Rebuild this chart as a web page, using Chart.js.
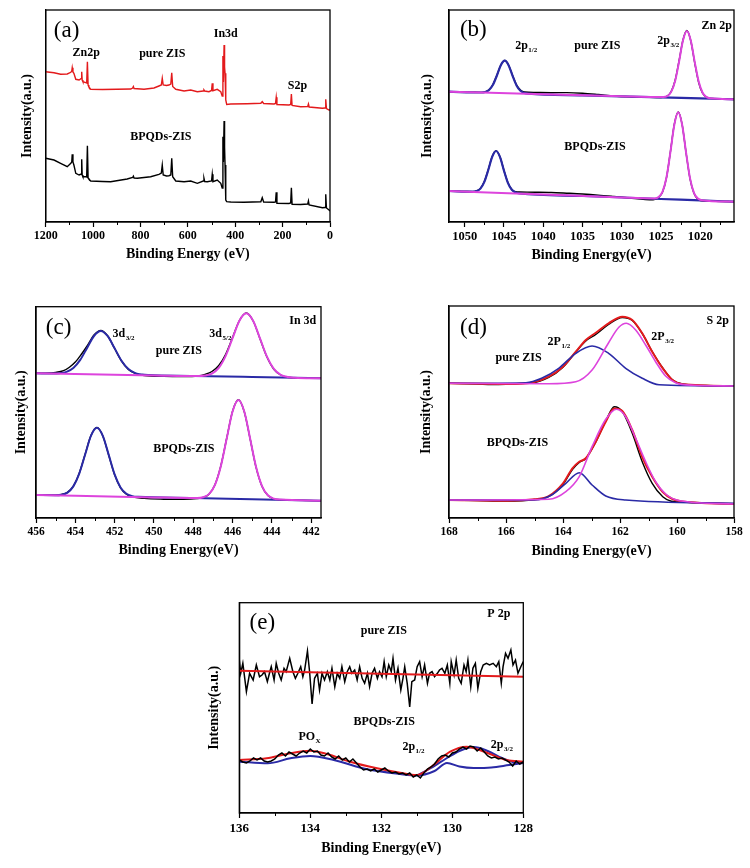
<!DOCTYPE html>
<html><head><meta charset="utf-8">
<script src="https://cdn.jsdelivr.net/npm/chart.js@4.4.1/dist/chart.umd.min.js"></script>
<style>
html,body{margin:0;padding:0;background:#fff;}
body{width:750px;height:868px;position:relative;overflow:hidden;}
canvas{position:absolute;}
</style></head><body>
<canvas id="ca" width="375" height="270" style="left:0;top:0"></canvas>
<canvas id="cb" width="375" height="270" style="left:375px;top:0"></canvas>
<canvas id="cc" width="375" height="300" style="left:0;top:270px"></canvas>
<canvas id="cd" width="375" height="300" style="left:375px;top:270px"></canvas>
<canvas id="ce" width="340" height="298" style="left:200px;top:570px"></canvas>
<script>
// ---------- tick labels ----------
const aTicks = [1200, 1000, 800, 600, 400, 200, 0];
const aMinor = [1100, 900, 700, 500, 300, 100];
const bTicks = [1050, 1045, 1040, 1035, 1030, 1025, 1020];
const bMinor = [1047.5, 1042.5, 1037.5, 1032.5, 1027.5, 1022.5, 1017.5];
const cTicks = [456, 454, 452, 450, 448, 446, 444, 442];
const cMinor = [455, 453, 451, 449, 447, 445, 443];
const dTicks = [168, 166, 164, 162, 160, 158];
const dMinor = [167, 165, 163, 161, 159];
const eTicks = [136, 134, 132, 130, 128];
const eMinor = [135, 133, 131, 129];

// ---------- (a) survey ----------
const aPureE = [1200,1165,1137,1109,1094,1090,1088,1085,1081,1073,1059,1050,1048,1046,1043,1031,1027,1024,1021,1018,1010,960,900,841,833,830,827,785,743,722,712,708,704,690,680,672,668,664,651,616,588,560,535,532,529,511,500,497,494,476,461,455,452,450,447,445,443,440,436,419,350,292,286,280,236,230,227,224,173,166,163,160,124,94,91,88,32,21,18,15,4,0];
const aPureI = [150.3,149.3,147.7,148,149.7,151,154.3,150,148.7,142.7,142,143.5,150.3,142,140.3,139.3,139,160.3,137,135.3,132.7,132.5,132.8,133,134,135.5,133.5,132.8,134,136,137,143.7,137,136.5,137,138,149.3,135.5,132.7,131,132,130.3,131,132,131,130.3,131.5,138.7,131.3,132.7,130.3,126,166,140,177,155,148.7,122,117.5,118,118.3,118.7,120.3,118.5,118,118.5,124.7,117.5,117,117.5,128,116.5,115.3,115.5,118,115,113.7,114,122.7,113.5,112,112];
const aBpE = [1200,1165,1137,1109,1094,1090,1088,1085,1081,1073,1059,1050,1048,1046,1043,1031,1027,1024,1021,1018,1010,960,926,856,833,830,827,813,785,757,722,712,708,704,690,680,672,668,664,651,616,588,560,535,532,529,518,500,497,494,476,461,455,452,450,447,445,443,440,436,419,363,292,286,280,236,230,227,224,173,166,163,160,124,94,91,88,32,21,18,15,4,0];
const aBpI = [63.7,62,58.7,55.3,58.7,60,67.7,60,57,48.7,47,48,62.7,47,45.3,45.3,45,76.3,44,43,41,40.5,40.3,43,44.5,45.8,44,43.7,44.5,45.3,47.7,49,57,47,46,46.3,47,63.7,45.3,41,40.3,41,38.7,41,43.7,40.5,40.3,41,47.7,40.3,42,38.7,34,85.3,60,101,75,57,22,20.3,20,19.7,20.3,24.3,20,19.7,20,29.7,18.7,18.5,19,34.3,17.7,17.5,18,21,17,14.3,14.5,27.7,14,12,11];

// ---------- (b) Zn 2p ----------
const bPureDataE = [1052,1049,1048,1047.4,1046.9,1046.4,1045.9,1045.4,1044.9,1044.4,1043.9,1043.4,1042.9,1042.4,1041,1039,1037,1035,1033,1031,1029,1027,1025,1024.2,1023.7,1023.2,1022.7,1022.2,1021.7,1021.2,1020.7,1020.2,1019.7,1019.2,1018.7,1017,1015.7];
const bPureDataI = [130.3,129.8,129.6,130.2,132.3,137.5,146.8,157.0,161.5,156.8,146.5,137.2,132.0,130.0,129.5,129.3,129.4,128.8,127.5,126.0,125.2,124.8,124.5,126.0,130.5,141.5,161,182,191.5,181,159,139.5,128.8,124.8,123.6,123.1,122.7];
const bPureP1E = [1052,1047.9,1047.4,1046.9,1046.4,1045.9,1045.4,1044.9,1044.4,1043.9,1043.4,1042.9,1042.4,1041.9,1035,1025,1020,1015.7];
const bPureP1I = [130.3,129.5,130.0,132.0,137.2,146.5,156.8,161.3,156.6,146.1,136.6,131.2,129.0,128.3,126.7,124.6,123.6,122.7];
const bPureP2E = [1052,1040,1030,1026,1024.7,1024.2,1023.7,1023.2,1022.7,1022.2,1021.7,1021.2,1020.7,1020.2,1019.7,1019.2,1018.7,1015.7];
const bPureP2I = [130.3,127.8,125.7,124.9,124.9,125.9,130.1,141.0,160.3,181.5,191.0,181.3,159.9,140.4,129.3,124.9,123.7,122.7];
const bBpDataE = [1052,1050,1049,1048.5,1048,1047.5,1047,1046.5,1046,1045.5,1045,1044.5,1044,1043.5,1043,1041,1039,1037,1035,1033,1031,1029,1027,1026,1025.3,1024.8,1024.3,1023.8,1023.3,1022.8,1022.3,1021.8,1021.3,1020.8,1020.3,1019.8,1018,1015.7];
const bBpDataI = [31.0,30.5,30.3,31.0,33.6,40.5,52.3,65.5,71.3,65.0,51.6,39.5,32.5,30.2,30.0,29.8,29.5,28.8,28.0,26.9,25.5,24.0,22.5,22.2,24.5,30.0,44.3,70.2,97.8,110.0,97.2,69.0,43.2,28.8,22.8,21.2,20.8,20.3];
const bBpP1E = [1052,1049.0,1048.5,1048.0,1047.5,1047.0,1046.5,1046.0,1045.5,1045.0,1044.5,1044.0,1043.5,1043.0,1035,1025,1020,1015.7];
const bBpP1I = [31.0,30.3,30.9,33.4,40.1,52.0,65.2,71.0,64.9,51.4,39.2,32.2,29.4,28.5,26.0,23.0,21.6,20.3];
const bBpP2E = [1052,1040,1030,1025.8,1025.3,1024.8,1024.3,1023.8,1023.3,1022.8,1022.3,1021.8,1021.3,1020.8,1020.3,1019.8,1015.7];
const bBpP2I = [31.0,27.5,24.5,23.6,24.9,30.4,44.5,69.8,97.3,109.7,97.0,69.2,43.6,29.2,23.4,21.8,20.3];

// ---------- (c) In 3d ----------
const cPureDataE = [456,455.5,455,454.6,454.3,454.0,453.7,453.4,453.05,452.7,452.35,452.0,451.65,451.3,450.95,450.5,449.5,448.5,447.75,447.4,447.05,446.7,446.35,446.0,445.65,445.3,444.95,444.6,444.25,443.9,443.55,443.2,442.5,441.5];
const cPureDataI = [144.8,144.9,145.6,147.3,150.8,156.0,163.5,172.0,183.0,187.5,182.0,169.5,157.0,148.6,144.6,142.5,141.6,141.4,142.0,143.6,146.5,152.5,163.8,180.5,197.5,205.0,197.0,179.0,161.0,148.8,143.0,140.8,140.0,139.7];
const cPureP1E = [456,455.15,454.8,454.45,454.1,453.75,453.4,453.05,452.7,452.35,452.0,451.65,451.3,450.95,450.6,450.25,448,445,441.5];
const cPureP1I = [144.7,144.5,144.8,146.1,150.0,158.1,170.1,182.0,187.0,181.8,169.7,157.3,149.0,144.9,143.4,142.9,142.1,141.0,139.7];
const cPureP2E = [456,450,447.75,447.4,447.05,446.7,446.35,446.0,445.65,445.3,444.95,444.6,444.25,443.9,443.55,443.2,442.85,441.5];
const cPureP2I = [144.7,142.6,141.9,142.4,144.4,150.1,162.1,179.8,197.3,204.7,197.1,179.4,161.3,149.1,143.2,141.0,140.3,139.7];
const cBpDataE = [456,455.0,454.7,454.4,454.1,453.8,453.5,453.2,452.9,452.6,452.3,452.0,451.7,451.4,451.1,450.5,449.5,448.5,447.8,447.5,447.2,446.9,446.6,446.3,446.0,445.7,445.4,445.1,444.8,444.5,444.2,443.9,443.6,442.5,441.5];
const cBpDataI = [23.0,22.9,23.5,25.6,31.9,44.8,63.8,82.6,90.6,82.0,62.8,43.2,30.2,23.8,21.2,19.6,18.8,18.6,19.4,20.6,23.8,33.0,51.8,79.5,106.8,118.3,106.0,78.5,50.4,31.6,22.5,19.2,18.2,17.6,17.3];
const cBpP1E = [456,455.0,454.7,454.4,454.1,453.8,453.5,453.2,452.9,452.6,452.3,452.0,451.7,451.4,451.1,450.8,448,445,441.5];
const cBpP1I = [23.0,22.8,23.3,25.4,31.6,44.4,63.5,82.4,90.3,82.2,63.1,43.6,30.6,24.2,21.9,21.2,20.1,18.7,17.3];
const cBpP2E = [456,450,447.8,447.5,447.2,446.9,446.6,446.3,446.0,445.7,445.4,445.1,444.8,444.5,444.2,443.9,443.6,441.5];
const cBpP2I = [23.0,20.6,20.0,20.8,23.9,32.9,51.5,79.2,106.5,118.0,106.3,78.8,50.7,31.9,22.7,19.4,18.4,17.3];

// ---------- (d) S 2p ----------
const dPureDataE = [168,167,166.5,166,165.5,165.1,164.5,164.0,163.55,163.2,162.85,162.4,161.92,161.57,161.22,160.87,160.5,160.16,159.8,159,158];
const dPureDataI = [134.7,134.0,133.5,133.8,134.6,135.0,140.5,150.8,166.0,177.0,183.5,193.5,200.5,197.5,184.5,166.5,150,138.2,134,132.5,132];
const dPureEnvE = [168,165.95,165.1,164.5,164.0,163.55,163.2,162.85,162.4,161.92,161.57,161.22,160.87,160.5,160.16,159.8,158];
const dPureEnvI = [134.7,134,135.3,141.3,151.3,166.3,178,185.3,194.7,201.3,198,184.7,166.3,149.7,138,133.7,132];
const dPureP1E = [168,165.3,164.75,164.15,163.55,162.98,162.4,161.8,161.22,160.63,158];
const dPureP1I = [134.7,135.3,139.7,149.7,164.7,172,164.7,149.7,139.7,133.2,132];
const dPureP2E = [168,164.5,163.55,162.98,162.4,162.04,161.78,161.45,161.1,160.75,160.4,160.05,159.4,158];
const dPureP2I = [134.7,134.3,136.3,148,175.3,190.7,194.7,188,173,156.3,142,135.3,132.7,132];
const dBpDataE = [168,167,166,165.0,164.5,164.0,163.67,163.43,163.2,162.85,162.5,162.2,161.92,161.57,161.22,160.87,160.5,160.2,159.8,159,158];
const dBpDataI = [18,17.5,17.0,18.5,21.5,33.5,48.5,55.5,59.5,76,97,111.3,106.3,84.7,56.3,34.7,21.3,16.8,16.0,15.0,14];
const dBpEnvE = [168,165.95,165.0,164.5,164.0,163.67,163.43,163.2,162.85,162.5,162.2,161.92,161.57,161.22,160.87,160.5,160.16,159.8,158];
const dBpEnvI = [18,17.3,18.7,22,34.7,49.7,56.3,59.7,76.3,96.3,109.5,107,88,61,41.3,26,19,16.5,14];
const dBpP1E = [168,165.0,164.4,163.9,163.43,162.98,162.5,161.8,158];
const dBpP1I = [18,18,23,34.7,45.3,33,22,18,14.7];
const dBpP2E = [168,164.5,163.9,163.43,162.98,162.5,162.12,161.8,161.45,161.1,160.75,160.4,159.9,158];
const dBpP2I = [18,18.7,26.3,41.3,71.3,98.7,108.7,101.3,79.7,56.3,36.3,24,17.3,14];

// ---------- (e) P 2p ----------
const ePureE = [136.00,135.96,135.90,135.80,135.71,135.61,135.52,135.43,135.36,135.29,135.21,135.14,135.10,135.02,134.96,134.89,134.82,134.74,134.68,134.58,134.49,134.42,134.35,134.27,134.21,134.16,134.08,134.02,133.95,133.88,133.80,133.74,133.67,133.60,133.52,133.45,133.39,133.31,133.24,133.17,133.11,133.03,132.96,132.89,132.83,132.75,132.68,132.61,132.54,132.47,132.39,132.33,132.26,132.19,132.11,132.05,131.98,131.92,131.86,131.79,131.72,131.67,131.60,131.53,131.45,131.39,131.34,131.27,131.20,131.14,131.06,130.99,130.92,130.85,130.78,130.70,130.64,130.57,130.50,130.42,130.36,130.29,130.21,130.14,130.07,130.03,129.95,129.89,129.82,129.75,129.67,129.61,129.56,129.48,129.42,129.35,129.28,129.20,129.13,129.04,128.95,128.85,128.76,128.69,128.62,128.57,128.50,128.43,128.35,128.29,128.22,128.15,128.07,128.00];
const ePureI = [153.0,139.7,149.7,121.3,139.7,133,148,136.3,138,141.3,131.3,141.3,146.3,133,149.7,139.7,133,144.7,141.3,154.7,141.3,134.7,139.7,146.3,136.3,143,162,141.3,109,134.7,139.7,123,139.7,133,141.3,133,144.7,126.3,139.7,134.7,146.3,131.3,141.3,146.3,139.7,143,133,146.3,134.7,129.7,139.7,126.3,139.7,144.7,134.7,141.3,136.3,151.3,136.3,148,141.3,154.7,133,144.7,123,134.7,146.3,129.7,106,131.3,133,146.3,151.3,136.3,148,129.7,139.7,141.3,136.3,139.7,143,144.7,139.7,148,129.7,151.3,138,153,134.7,129.7,148,141.3,153,126.3,144.7,149.7,124.7,141.3,148,149.7,148,149.7,146.3,151.3,129.7,146.3,159.7,154.7,163,148,153,139.7,146.3,151.3];
const ePureFitE = [136, 128];
const ePureFitI = [142.3, 136.3];
const eBpDataE = [136.0,135.9,135.8,135.7,135.6,135.5,135.4,135.3,135.2,135.1,135.0,134.9,134.8,134.7,134.6,134.5,134.4,134.3,134.2,134.1,134.0,133.9,133.8,133.7,133.6,133.5,133.4,133.3,133.2,133.1,133.0,132.9,132.8,132.7,132.6,132.5,132.4,132.3,132.2,132.1,132.0,131.9,131.8,131.7,131.6,131.5,131.4,131.3,131.2,131.1,131.0,130.9,130.8,130.7,130.6,130.5,130.4,130.3,130.2,130.1,130.0,129.9,129.8,129.7,129.6,129.5,129.4,129.3,129.2,129.1,129.0,128.9,128.8,128.7,128.6,128.5,128.4,128.3,128.2,128.1,128.0];
const eBpDataI = [53,51,50,52,55,53,55,52,51,52,54,58,60,57,61,59,57,60,62,60,64,61,62,58,57,60,56,54,57,53,55,51,54,50,46,43,44,42,44,41,43,45,42,40,41,39,40,38,40,36,38,35,40,44,46,49,54,57,58,56,60,61,64,66,64,67,66,62,65,61,57,55,56,54,55,53,51,47,52,49,51];
const eBpEnvE = [136,135.23,134.66,134.0,133.53,132.88,132.12,131.47,131.0,130.53,130.06,129.6,129.03,128.47,128.0];
const eBpEnvI = [53,54.7,59,62.3,59,51.3,44.7,40.3,38,48,61.3,66.3,60.3,53,51.3];
const eBpPoxE = [136,135.2,134.56,134.0,133.34,132.4,131.47,131.0,130.5,130.15,129.8,129.4,128.9,128.4,128.0];
const eBpPoxI = [51.3,49.7,54.7,57,53,43.7,39,37.5,42,50,46.5,45,45.5,48,50];
const eBpP32E = [131.0,130.6,130.15,129.8,129.4,129.0,128.6,128.3,128.0];
const eBpP32I = [37.5,45,55,62,66,62,55,51,50];

// ---------- helpers ----------
const SERIF = '"Liberation Serif", "Times New Roman", serif';
Chart.defaults.font.family = SERIF;
const BLACK = '#000000', RED = '#e31a1c', BLUE = '#2a2aa6', MAG = '#dd44dd';

function ds(xs, ys, color, width, smooth) {
  return {
    data: xs.map((v, i) => ({x: v, y: ys[i]})),
    borderColor: color, borderWidth: width, pointRadius: 0, fill: false,
    tension: smooth ? 0.4 : 0,
    cubicInterpolationMode: smooth ? 'monotone' : 'default'
  };
}

const framePlugin = {
  id: 'frame',
  afterDraw(chart, args, opts) {
    const {ctx, chartArea: a, scales} = chart;
    const x = scales.x, y = scales.y;
    ctx.save();
    ctx.strokeStyle = '#000'; ctx.lineWidth = 1.3;
    ctx.strokeRect(a.left, a.top, a.right - a.left, a.bottom - a.top);
    ctx.lineWidth = 1;
    (opts.minor || []).forEach(v => {
      const px = Math.round(x.getPixelForValue(v)) + 0.5;
      ctx.beginPath(); ctx.moveTo(px, a.bottom); ctx.lineTo(px, a.bottom + 3); ctx.stroke();
    });
    (opts.labels || []).forEach(it => {
      const px = x.getPixelForValue(it.x), py = y.getPixelForValue(it.y);
      const size = it.size || 12;
      const weight = it.weight || 'bold';
      const main = weight + ' ' + size + 'px ' + SERIF;
      const subSize = Math.round(size * 0.62);
      const subF = weight + ' ' + subSize + 'px ' + SERIF;
      ctx.font = main; const w1 = ctx.measureText(it.t).width;
      let w2 = 0;
      if (it.s) { ctx.font = subF; w2 = ctx.measureText(it.s).width; }
      const x0 = px - (w1 + w2) / 2;
      ctx.textBaseline = 'middle'; ctx.textAlign = 'left'; ctx.fillStyle = '#000';
      ctx.font = main; ctx.fillText(it.t, x0, py);
      if (it.s) { ctx.font = subF; ctx.fillText(it.s, x0 + w1 + 0.5, py + size * 0.35); }
    });
    ctx.restore();
  }
};

function makeChart(id, c) {
  return new Chart(document.getElementById(id), {
    type: 'line',
    data: { datasets: c.datasets },
    options: {
      responsive: false, animation: false, devicePixelRatio: 1,
      layout: { padding: c.padding },
      plugins: { legend: {display: false}, tooltip: {enabled: false},
                 frame: { minor: c.minor, labels: c.labels } },
      scales: {
        x: {
          type: 'linear', reverse: true, min: c.xmin, max: c.xmax,
          afterBuildTicks: s => { s.ticks = c.ticks.map(v => ({value: v})); },
          afterFit: s => { s.height = c.xAxisH; },
          ticks: { font: {family: SERIF, weight: 'bold', size: c.tickSize}, color: '#000',
                   padding: c.tickPad, maxRotation: 0, autoSkip: false, callback: v => String(v) },
          grid: { display: true, drawOnChartArea: false, drawTicks: true, tickLength: 5,
                  tickColor: '#000', tickWidth: 1.2 },
          border: { display: true, color: '#000', width: 1.3 },
          title: { display: true, text: c.xTitle, color: '#000',
                   font: {family: SERIF, weight: 'bold', size: 14},
                   padding: {top: 0, bottom: c.xTitlePad} }
        },
        y: {
          type: 'linear', min: 0, max: c.ymax,
          afterFit: s => { s.width = c.yAxisW; },
          ticks: { display: false }, grid: { display: false },
          border: { display: true, color: '#000', width: 1.3 },
          title: { display: true, text: 'Intensity(a.u.)', color: '#000',
                   font: {family: SERIF, weight: 'bold', size: 14},
                   padding: {top: c.yTitlePad, bottom: 0} }
        }
      }
    },
    plugins: [framePlugin]
  });
}

// (a)
makeChart('ca', {
  datasets: [ ds(aPureE, aPureI, RED, 1.4, false), ds(aBpE, aBpI, BLACK, 1.4, false) ],
  padding: {left: 0, top: 10, right: 45, bottom: 0},
  xmin: 0, xmax: 1200, ymax: 212, ticks: aTicks, minor: aMinor,
  xAxisH: 48, yAxisW: 45.7, tickSize: 12, tickPad: 1.8, xTitlePad: 7.6, yTitlePad: 18.6,
  xTitle: 'Binding Energy (eV)',
  labels: [
    {x: 1112, y: 191, t: '(a)', size: 23, weight: 'normal'},
    {x: 1029, y: 169.5, t: 'Zn2p'},
    {x: 708, y: 167.8, t: 'pure ZIS'},
    {x: 440, y: 188.3, t: 'In3d'},
    {x: 137, y: 136.5, t: 'S2p'},
    {x: 714, y: 84.8, t: 'BPQDs-ZIS'}
  ]
});

// (b)
makeChart('cb', {
  datasets: [
    ds(bPureP2E, bPureP2I, MAG, 2, true), ds(bPureP1E, bPureP1I, BLUE, 2.2, true),
    ds(bBpP2E, bBpP2I, MAG, 2, true), ds(bBpP1E, bBpP1I, BLUE, 2.2, true),
    ds(bPureDataE, bPureDataI, BLACK, 1.4, true), ds(bBpDataE, bBpDataI, BLACK, 1.4, true)
  ],
  padding: {left: 0, top: 10, right: 16, bottom: 0},
  xmin: 1015.7, xmax: 1052, ymax: 212, ticks: bTicks, minor: bMinor,
  xAxisH: 48, yAxisW: 74, tickSize: 12.5, tickPad: 2.2, xTitlePad: 6.6, yTitlePad: 43.6,
  xTitle: 'Binding Energy(eV)',
  labels: [
    {x: 1048.9, y: 192, t: '(b)', size: 23, weight: 'normal'},
    {x: 1042.2, y: 176, t: '2p', s: '1/2'},
    {x: 1033.1, y: 176.2, t: 'pure ZIS'},
    {x: 1024.1, y: 181.2, t: '2p', s: '3/2'},
    {x: 1017.9, y: 196.2, t: 'Zn 2p'},
    {x: 1033.4, y: 74.8, t: 'BPQDs-ZIS'}
  ]
});

// (c)
makeChart('cc', {
  datasets: [
    ds(cPureP2E, cPureP2I, MAG, 2, true), ds(cPureP1E, cPureP1I, BLUE, 2, true),
    ds(cBpP2E, cBpP2I, MAG, 2, true), ds(cBpP1E, cBpP1I, BLUE, 2, true),
    ds(cPureDataE, cPureDataI, BLACK, 1.4, true), ds(cBpDataE, cBpDataI, BLACK, 1.4, true)
  ],
  padding: {left: 0, top: 36.7, right: 54, bottom: 0},
  xmin: 441.5, xmax: 456, ymax: 211.3, ticks: cTicks, minor: cMinor,
  xAxisH: 52, yAxisW: 36, tickSize: 11.5, tickPad: 2.1, xTitlePad: 11.1, yTitlePad: 12.6,
  xTitle: 'Binding Energy(eV)',
  labels: [
    {x: 454.85, y: 190.5, t: '(c)', size: 23, weight: 'normal'},
    {x: 451.56, y: 184, t: '3d', s: '3/2'},
    {x: 446.63, y: 184, t: '3d', s: '5/2'},
    {x: 442.43, y: 197.2, t: 'In 3d'},
    {x: 448.73, y: 166.7, t: 'pure ZIS'},
    {x: 448.48, y: 69.3, t: 'BPQDs-ZIS'}
  ]
});

// (d)
makeChart('cd', {
  datasets: [
    ds(dPureP2E, dPureP2I, MAG, 1.6, true), ds(dPureP1E, dPureP1I, BLUE, 1.6, true),
    ds(dBpP2E, dBpP2I, MAG, 1.6, true), ds(dBpP1E, dBpP1I, BLUE, 1.6, true),
    ds(dPureEnvE, dPureEnvI, RED, 2, true), ds(dBpEnvE, dBpEnvI, RED, 2, true),
    ds(dPureDataE, dPureDataI, BLACK, 1.4, true), ds(dBpDataE, dBpDataI, BLACK, 1.4, true)
  ],
  padding: {left: 0, top: 36, right: 16, bottom: 0},
  xmin: 158, xmax: 168, ymax: 212, ticks: dTicks, minor: dMinor,
  xAxisH: 52, yAxisW: 74, tickSize: 11.5, tickPad: 1.8, xTitlePad: 10.1, yTitlePad: 42.6,
  xTitle: 'Binding Energy(eV)',
  labels: [
    {x: 167.14, y: 190.5, t: '(d)', size: 23, weight: 'normal'},
    {x: 164.15, y: 176.3, t: '2P', s: '1/2'},
    {x: 160.51, y: 181.3, t: '2P', s: '3/2'},
    {x: 158.57, y: 197.5, t: 'S 2p'},
    {x: 165.56, y: 160.5, t: 'pure ZIS'},
    {x: 165.6, y: 75.2, t: 'BPQDs-ZIS'}
  ]
});

// (e)
makeChart('ce', {
  datasets: [
    ds(eBpDataE, eBpDataI, BLACK, 1.5, false),
    ds(eBpEnvE, eBpEnvI, RED, 2, true),
    ds(eBpPoxE, eBpPoxI, BLUE, 2, true), ds(eBpP32E, eBpP32I, BLUE, 2, true),
    ds(ePureFitE, ePureFitI, RED, 2, false),
    ds(ePureE, ePureI, BLACK, 1.5, false)
  ],
  padding: {left: 0, top: 32.7, right: 16.7, bottom: 0},
  xmin: 128, xmax: 136, ymax: 210.3, ticks: eTicks, minor: eMinor,
  xAxisH: 55, yAxisW: 39.3, tickSize: 13, tickPad: 2.5, xTitlePad: 11.3, yTitlePad: 5.6,
  xTitle: 'Binding Energy(eV)',
  labels: [
    {x: 135.35, y: 189.7, t: '(e)', size: 23, weight: 'normal'},
    {x: 128.69, y: 198.8, t: 'P 2p'},
    {x: 131.93, y: 181.7, t: 'pure ZIS'},
    {x: 131.92, y: 91, t: 'BPQDs-ZIS'},
    {x: 134.03, y: 76.3, t: 'PO', s: 'X'},
    {x: 131.1, y: 66.3, t: '2p', s: '1/2'},
    {x: 128.61, y: 68, t: '2p', s: '3/2'}
  ]
});
</script>
</body></html>
